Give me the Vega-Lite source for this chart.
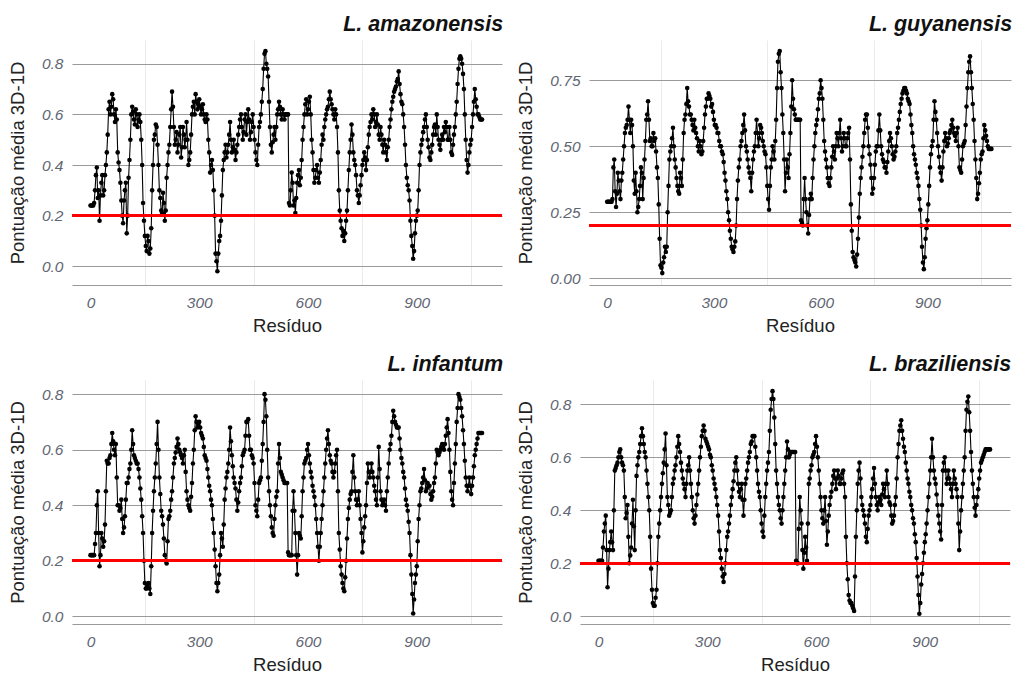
{
"$schema": "https://vega.github.io/schema/vega-lite/v6.json",
"background": "white",
"padding": {"left": 8, "top": 13, "right": 0, "bottom": 0},
"datasets": {"d": [
{"r":0,"a":0.24,"g":0.29,"i":0.22,"b":0.21},
{"r":5,"a":0.24,"g":0.29,"i":0.22,"b":0.21},
{"r":10,"a":0.25,"g":0.29,"i":0.22,"b":0.21},
{"r":15,"a":0.36,"g":0.3,"i":0.3,"b":0.32},
{"r":20,"a":0.27,"g":0.45,"i":0.45,"b":0.38},
{"r":25,"a":0.18,"g":0.27,"i":0.18,"b":0.11},
{"r":30,"a":0.33,"g":0.4,"i":0.3,"b":0.25},
{"r":35,"a":0.28,"g":0.33,"i":0.25,"b":0.32},
{"r":40,"a":0.36,"g":0.37,"i":0.33,"b":0.25},
{"r":45,"a":0.45,"g":0.45,"i":0.56,"b":0.55},
{"r":50,"a":0.62,"g":0.55,"i":0.55,"b":0.57},
{"r":55,"a":0.6,"g":0.58,"i":0.58,"b":0.6},
{"r":60,"a":0.68,"g":0.65,"i":0.66,"b":0.63},
{"r":65,"a":0.6,"g":0.55,"i":0.6,"b":0.58},
{"r":70,"a":0.62,"g":0.58,"i":0.62,"b":0.55},
{"r":75,"a":0.45,"g":0.37,"i":0.4,"b":0.37},
{"r":80,"a":0.38,"g":0.4,"i":0.38,"b":0.42},
{"r":85,"a":0.26,"g":0.25,"i":0.42,"b":0.2},
{"r":90,"a":0.17,"g":0.3,"i":0.3,"b":0.26},
{"r":95,"a":0.3,"g":0.42,"i":0.36,"b":0.44},
{"r":100,"a":0.13,"g":0.3,"i":0.48,"b":0.25},
{"r":105,"a":0.35,"g":0.45,"i":0.5,"b":0.53},
{"r":110,"a":0.5,"g":0.6,"i":0.55,"b":0.6},
{"r":115,"a":0.63,"g":0.67,"i":0.67,"b":0.65},
{"r":120,"a":0.58,"g":0.52,"i":0.58,"b":0.71},
{"r":125,"a":0.62,"g":0.5,"i":0.56,"b":0.65},
{"r":130,"a":0.55,"g":0.55,"i":0.55,"b":0.6},
{"r":135,"a":0.6,"g":0.53,"i":0.5,"b":0.5},
{"r":140,"a":0.5,"g":0.42,"i":0.42,"b":0.4},
{"r":145,"a":0.25,"g":0.28,"i":0.3,"b":0.18},
{"r":150,"a":0.12,"g":0.05,"i":0.12,"b":0.05},
{"r":155,"a":0.06,"g":0.02,"i":0.1,"b":0.04},
{"r":160,"a":0.1,"g":0.08,"i":0.12,"b":0.1},
{"r":165,"a":0.07,"g":0.1,"i":0.08,"b":0.3},
{"r":170,"a":0.3,"g":0.25,"i":0.3,"b":0.4},
{"r":175,"a":0.5,"g":0.45,"i":0.45,"b":0.5},
{"r":180,"a":0.56,"g":0.5,"i":0.55,"b":0.58},
{"r":185,"a":0.48,"g":0.57,"i":0.7,"b":0.69},
{"r":190,"a":0.3,"g":0.45,"i":0.5,"b":0.45},
{"r":195,"a":0.22,"g":0.38,"i":0.38,"b":0.38},
{"r":200,"a":0.29,"g":0.33,"i":0.33,"b":0.4},
{"r":205,"a":0.18,"g":0.4,"i":0.22,"b":0.5},
{"r":210,"a":0.35,"g":0.35,"i":0.19,"b":0.55},
{"r":215,"a":0.45,"g":0.55,"i":0.35,"b":0.6},
{"r":220,"a":0.55,"g":0.62,"i":0.38,"b":0.68},
{"r":225,"a":0.69,"g":0.72,"i":0.45,"b":0.62},
{"r":230,"a":0.55,"g":0.65,"i":0.55,"b":0.55},
{"r":235,"a":0.5,"g":0.62,"i":0.59,"b":0.5},
{"r":240,"a":0.45,"g":0.58,"i":0.64,"b":0.45},
{"r":245,"a":0.52,"g":0.6,"i":0.6,"b":0.55},
{"r":250,"a":0.43,"g":0.55,"i":0.58,"b":0.6},
{"r":255,"a":0.55,"g":0.5,"i":0.55,"b":0.5},
{"r":260,"a":0.47,"g":0.52,"i":0.6,"b":0.4},
{"r":265,"a":0.57,"g":0.47,"i":0.45,"b":0.35},
{"r":270,"a":0.4,"g":0.52,"i":0.4,"b":0.42},
{"r":275,"a":0.45,"g":0.62,"i":0.38,"b":0.5},
{"r":280,"a":0.6,"g":0.68,"i":0.48,"b":0.6},
{"r":285,"a":0.65,"g":0.7,"i":0.6,"b":0.68},
{"r":290,"a":0.68,"g":0.68,"i":0.72,"b":0.72},
{"r":295,"a":0.62,"g":0.66,"i":0.68,"b":0.67},
{"r":300,"a":0.66,"g":0.6,"i":0.7,"b":0.65},
{"r":305,"a":0.6,"g":0.58,"i":0.66,"b":0.63},
{"r":310,"a":0.64,"g":0.55,"i":0.64,"b":0.6},
{"r":315,"a":0.58,"g":0.52,"i":0.58,"b":0.55},
{"r":320,"a":0.6,"g":0.5,"i":0.56,"b":0.5},
{"r":325,"a":0.5,"g":0.47,"i":0.5,"b":0.45},
{"r":330,"a":0.37,"g":0.4,"i":0.45,"b":0.38},
{"r":335,"a":0.42,"g":0.33,"i":0.4,"b":0.25},
{"r":340,"a":0.3,"g":0.25,"i":0.3,"b":0.18},
{"r":345,"a":0.05,"g":0.18,"i":0.18,"b":0.13},
{"r":350,"a":-0.02,"g":0.12,"i":0.09,"b":0.2},
{"r":355,"a":0.1,"g":0.1,"i":0.15,"b":0.3},
{"r":360,"a":0.18,"g":0.14,"i":0.3,"b":0.35},
{"r":365,"a":0.38,"g":0.3,"i":0.25,"b":0.42},
{"r":370,"a":0.45,"g":0.42,"i":0.42,"b":0.48},
{"r":375,"a":0.43,"g":0.5,"i":0.5,"b":0.55},
{"r":380,"a":0.48,"g":0.55,"i":0.55,"b":0.6},
{"r":385,"a":0.57,"g":0.62,"i":0.68,"b":0.5},
{"r":390,"a":0.45,"g":0.5,"i":0.58,"b":0.45},
{"r":395,"a":0.5,"g":0.45,"i":0.5,"b":0.5},
{"r":400,"a":0.42,"g":0.4,"i":0.46,"b":0.38},
{"r":405,"a":0.48,"g":0.33,"i":0.38,"b":0.5},
{"r":410,"a":0.55,"g":0.45,"i":0.45,"b":0.55},
{"r":415,"a":0.6,"g":0.5,"i":0.5,"b":0.6},
{"r":420,"a":0.5,"g":0.6,"i":0.58,"b":0.65},
{"r":425,"a":0.58,"g":0.5,"i":0.6,"b":0.68},
{"r":430,"a":0.52,"g":0.58,"i":0.7,"b":0.68},
{"r":435,"a":0.62,"g":0.55,"i":0.71,"b":0.6},
{"r":440,"a":0.5,"g":0.5,"i":0.6,"b":0.5},
{"r":445,"a":0.57,"g":0.47,"i":0.58,"b":0.45},
{"r":450,"a":0.55,"g":0.35,"i":0.55,"b":0.35},
{"r":455,"a":0.45,"g":0.26,"i":0.4,"b":0.3},
{"r":460,"a":0.4,"g":0.42,"i":0.36,"b":0.45},
{"r":465,"a":0.55,"g":0.5,"i":0.48,"b":0.55},
{"r":470,"a":0.6,"g":0.45,"i":0.5,"b":0.62},
{"r":475,"a":0.7,"g":0.6,"i":0.62,"b":0.78},
{"r":480,"a":0.84,"g":0.82,"i":0.8,"b":0.85},
{"r":485,"a":0.8,"g":0.86,"i":0.72,"b":0.75},
{"r":490,"a":0.75,"g":0.72,"i":0.5,"b":0.55},
{"r":495,"a":0.55,"g":0.55,"i":0.4,"b":0.45},
{"r":500,"a":0.45,"g":0.33,"i":0.32,"b":0.4},
{"r":505,"a":0.52,"g":0.45,"i":0.29,"b":0.35},
{"r":510,"a":0.5,"g":0.38,"i":0.4,"b":0.45},
{"r":515,"a":0.6,"g":0.55,"i":0.45,"b":0.55},
{"r":520,"a":0.65,"g":0.75,"i":0.62,"b":0.66},
{"r":525,"a":0.6,"g":0.64,"i":0.52,"b":0.6},
{"r":530,"a":0.62,"g":0.6,"i":0.5,"b":0.62},
{"r":535,"a":0.58,"g":0.6,"i":0.48,"b":0.62},
{"r":540,"a":0.6,"g":0.6,"i":0.48,"b":0.62},
{"r":545,"a":0.6,"g":0.22,"i":0.23,"b":0.21},
{"r":550,"a":0.24,"g":0.2,"i":0.22,"b":0.2},
{"r":555,"a":0.37,"g":0.38,"i":0.22,"b":0.45},
{"r":560,"a":0.24,"g":0.25,"i":0.45,"b":0.35},
{"r":565,"a":0.21,"g":0.17,"i":0.3,"b":0.18},
{"r":570,"a":0.33,"g":0.3,"i":0.15,"b":0.3},
{"r":575,"a":0.38,"g":0.3,"i":0.3,"b":0.21},
{"r":580,"a":0.35,"g":0.45,"i":0.28,"b":0.5},
{"r":585,"a":0.5,"g":0.55,"i":0.45,"b":0.55},
{"r":590,"a":0.6,"g":0.6,"i":0.55,"b":0.6},
{"r":595,"a":0.66,"g":0.68,"i":0.57,"b":0.62},
{"r":600,"a":0.62,"g":0.75,"i":0.62,"b":0.68},
{"r":605,"a":0.67,"g":0.68,"i":0.55,"b":0.6},
{"r":610,"a":0.5,"g":0.52,"i":0.5,"b":0.5},
{"r":615,"a":0.38,"g":0.45,"i":0.45,"b":0.4},
{"r":620,"a":0.35,"g":0.38,"i":0.4,"b":0.35},
{"r":625,"a":0.4,"g":0.35,"i":0.3,"b":0.45},
{"r":630,"a":0.33,"g":0.42,"i":0.2,"b":0.27},
{"r":635,"a":0.42,"g":0.5,"i":0.3,"b":0.38},
{"r":640,"a":0.52,"g":0.45,"i":0.4,"b":0.45},
{"r":645,"a":0.55,"g":0.55,"i":0.5,"b":0.5},
{"r":650,"a":0.6,"g":0.5,"i":0.6,"b":0.55},
{"r":655,"a":0.63,"g":0.6,"i":0.67,"b":0.48},
{"r":660,"a":0.69,"g":0.48,"i":0.58,"b":0.55},
{"r":665,"a":0.64,"g":0.55,"i":0.55,"b":0.5},
{"r":670,"a":0.6,"g":0.5,"i":0.5,"b":0.52},
{"r":675,"a":0.62,"g":0.53,"i":0.55,"b":0.55},
{"r":680,"a":0.55,"g":0.57,"i":0.6,"b":0.45},
{"r":685,"a":0.3,"g":0.28,"i":0.3,"b":0.2},
{"r":690,"a":0.18,"g":0.1,"i":0.18,"b":0.08},
{"r":695,"a":0.12,"g":0.07,"i":0.12,"b":0.05},
{"r":700,"a":0.1,"g":0.045,"i":0.09,"b":0.04},
{"r":705,"a":0.18,"g":0.15,"i":0.2,"b":0.02},
{"r":710,"a":0.3,"g":0.32,"i":0.35,"b":0.3},
{"r":715,"a":0.45,"g":0.42,"i":0.42,"b":0.5},
{"r":720,"a":0.56,"g":0.5,"i":0.45,"b":0.58},
{"r":725,"a":0.45,"g":0.6,"i":0.58,"b":0.45},
{"r":730,"a":0.4,"g":0.62,"i":0.45,"b":0.4},
{"r":735,"a":0.3,"g":0.5,"i":0.4,"b":0.35},
{"r":740,"a":0.25,"g":0.43,"i":0.45,"b":0.28},
{"r":745,"a":0.32,"g":0.32,"i":0.35,"b":0.38},
{"r":750,"a":0.4,"g":0.38,"i":0.23,"b":0.42},
{"r":755,"a":0.45,"g":0.48,"i":0.32,"b":0.48},
{"r":760,"a":0.38,"g":0.5,"i":0.4,"b":0.56},
{"r":765,"a":0.47,"g":0.62,"i":0.55,"b":0.45},
{"r":770,"a":0.55,"g":0.5,"i":0.5,"b":0.4},
{"r":775,"a":0.6,"g":0.45,"i":0.55,"b":0.45},
{"r":780,"a":0.62,"g":0.42,"i":0.5,"b":0.42},
{"r":785,"a":0.55,"g":0.4,"i":0.45,"b":0.5},
{"r":790,"a":0.6,"g":0.48,"i":0.4,"b":0.45},
{"r":795,"a":0.52,"g":0.55,"i":0.61,"b":0.55},
{"r":800,"a":0.55,"g":0.5,"i":0.45,"b":0.45},
{"r":805,"a":0.48,"g":0.45,"i":0.4,"b":0.42},
{"r":810,"a":0.5,"g":0.48,"i":0.42,"b":0.35},
{"r":815,"a":0.45,"g":0.55,"i":0.38,"b":0.38},
{"r":820,"a":0.47,"g":0.6,"i":0.5,"b":0.45},
{"r":825,"a":0.55,"g":0.66,"i":0.6,"b":0.6},
{"r":830,"a":0.62,"g":0.7,"i":0.65,"b":0.7},
{"r":835,"a":0.67,"g":0.72,"i":0.74,"b":0.74},
{"r":840,"a":0.7,"g":0.71,"i":0.7,"b":0.67},
{"r":845,"a":0.73,"g":0.68,"i":0.68,"b":0.62},
{"r":850,"a":0.77,"g":0.66,"i":0.68,"b":0.55},
{"r":855,"a":0.68,"g":0.58,"i":0.6,"b":0.5},
{"r":860,"a":0.64,"g":0.5,"i":0.55,"b":0.45},
{"r":865,"a":0.55,"g":0.45,"i":0.5,"b":0.4},
{"r":870,"a":0.4,"g":0.4,"i":0.42,"b":0.35},
{"r":875,"a":0.32,"g":0.35,"i":0.38,"b":0.28},
{"r":880,"a":0.26,"g":0.26,"i":0.3,"b":0.15},
{"r":885,"a":0.12,"g":0.12,"i":0.15,"b":0.01},
{"r":890,"a":0.03,"g":0.035,"i":0.01,"b":0.12},
{"r":895,"a":0.13,"g":0.15,"i":0.12,"b":0.2},
{"r":900,"a":0.2,"g":0.22,"i":0.18,"b":0.28},
{"r":905,"a":0.3,"g":0.35,"i":0.35,"b":0.35},
{"r":910,"a":0.45,"g":0.47,"i":0.45,"b":0.45},
{"r":915,"a":0.5,"g":0.52,"i":0.48,"b":0.55},
{"r":920,"a":0.55,"g":0.67,"i":0.53,"b":0.67},
{"r":925,"a":0.6,"g":0.6,"i":0.45,"b":0.55},
{"r":930,"a":0.5,"g":0.5,"i":0.48,"b":0.5},
{"r":935,"a":0.43,"g":0.42,"i":0.47,"b":0.42},
{"r":940,"a":0.45,"g":0.37,"i":0.42,"b":0.35},
{"r":945,"a":0.52,"g":0.48,"i":0.45,"b":0.29},
{"r":950,"a":0.56,"g":0.55,"i":0.5,"b":0.55},
{"r":955,"a":0.6,"g":0.5,"i":0.6,"b":0.6},
{"r":960,"a":0.5,"g":0.53,"i":0.58,"b":0.5},
{"r":965,"a":0.46,"g":0.56,"i":0.6,"b":0.55},
{"r":970,"a":0.52,"g":0.6,"i":0.62,"b":0.5},
{"r":975,"a":0.55,"g":0.55,"i":0.6,"b":0.45},
{"r":980,"a":0.57,"g":0.52,"i":0.65,"b":0.55},
{"r":985,"a":0.5,"g":0.57,"i":0.71,"b":0.5},
{"r":990,"a":0.55,"g":0.42,"i":0.6,"b":0.45},
{"r":995,"a":0.45,"g":0.4,"i":0.45,"b":0.25},
{"r":1000,"a":0.48,"g":0.5,"i":0.4,"b":0.4},
{"r":1005,"a":0.55,"g":0.52,"i":0.55,"b":0.5},
{"r":1010,"a":0.65,"g":0.65,"i":0.7,"b":0.6},
{"r":1015,"a":0.78,"g":0.78,"i":0.8,"b":0.78},
{"r":1020,"a":0.83,"g":0.84,"i":0.78,"b":0.83},
{"r":1025,"a":0.8,"g":0.72,"i":0.72,"b":0.7},
{"r":1030,"a":0.7,"g":0.6,"i":0.62,"b":0.55},
{"r":1035,"a":0.5,"g":0.45,"i":0.5,"b":0.45},
{"r":1040,"a":0.37,"g":0.3,"i":0.45,"b":0.38},
{"r":1045,"a":0.45,"g":0.36,"i":0.5,"b":0.45},
{"r":1050,"a":0.5,"g":0.45,"i":0.44,"b":0.52},
{"r":1055,"a":0.6,"g":0.48,"i":0.5,"b":0.58},
{"r":1060,"a":0.7,"g":0.58,"i":0.58,"b":0.6},
{"r":1065,"a":0.63,"g":0.54,"i":0.62,"b":0.62},
{"r":1070,"a":0.6,"g":0.5,"i":0.66,"b":0.63},
{"r":1075,"a":0.58,"g":0.49,"i":0.66,"b":0.63},
{"r":1080,"a":0.58,"g":0.49,"i":0.66,"b":0.63},
{"r":2.5,"a":0.24,"g":0.29,"i":0.22,"b":0.21},
{"r":7.5,"a":0.24,"g":0.29,"i":0.22,"b":0.21},
{"r":12.5,"a":0.3,"g":0.29,"i":0.26,"b":0.26},
{"r":17.5,"a":0.39,"g":0.42,"i":0.4,"b":0.35},
{"r":22.5,"a":0.3,"g":0.33,"i":0.3,"b":0.25},
{"r":27.5,"a":0.28,"g":0.32,"i":0.22,"b":0.18},
{"r":32.5,"a":0.36,"g":0.37,"i":0.28,"b":0.28},
{"r":37.5,"a":0.3,"g":0.3,"i":0.27,"b":0.28},
{"r":42.5,"a":0.4,"g":0.4,"i":0.45,"b":0.4},
{"r":47.5,"a":0.52,"g":0.5,"i":0.55,"b":0.56},
{"r":52.5,"a":0.65,"g":0.57,"i":0.57,"b":0.58},
{"r":57.5,"a":0.63,"g":0.6,"i":0.62,"b":0.62},
{"r":62.5,"a":0.66,"g":0.6,"i":0.63,"b":0.6},
{"r":67.5,"a":0.57,"g":0.6,"i":0.58,"b":0.57},
{"r":72.5,"a":0.58,"g":0.5,"i":0.5,"b":0.45},
{"r":77.5,"a":0.41,"g":0.32,"i":0.4,"b":0.39},
{"r":82.5,"a":0.33,"g":0.33,"i":0.39,"b":0.3},
{"r":87.5,"a":0.2,"g":0.27,"i":0.35,"b":0.23},
{"r":92.5,"a":0.26,"g":0.35,"i":0.32,"b":0.35},
{"r":97.5,"a":0.33,"g":0.4,"i":0.42,"b":0.34},
{"r":102.5,"a":0.2,"g":0.38,"i":0.48,"b":0.4},
{"r":107.5,"a":0.42,"g":0.52,"i":0.53,"b":0.57},
{"r":112.5,"a":0.6,"g":0.62,"i":0.6,"b":0.62},
{"r":117.5,"a":0.61,"g":0.6,"i":0.62,"b":0.68},
{"r":122.5,"a":0.56,"g":0.53,"i":0.57,"b":0.68},
{"r":127.5,"a":0.6,"g":0.5,"i":0.55,"b":0.62},
{"r":132.5,"a":0.58,"g":0.52,"i":0.53,"b":0.55},
{"r":137.5,"a":0.57,"g":0.48,"i":0.46,"b":0.45},
{"r":142.5,"a":0.4,"g":0.38,"i":0.36,"b":0.3},
{"r":147.5,"a":0.18,"g":0.15,"i":0.2,"b":0.1},
{"r":152.5,"a":0.08,"g":0.04,"i":0.1,"b":0.04},
{"r":157.5,"a":0.12,"g":0.06,"i":0.11,"b":0.07},
{"r":162.5,"a":0.05,"g":0.12,"i":0.1,"b":0.2},
{"r":167.5,"a":0.15,"g":0.12,"i":0.18,"b":0.35},
{"r":172.5,"a":0.4,"g":0.35,"i":0.38,"b":0.45},
{"r":177.5,"a":0.52,"g":0.48,"i":0.5,"b":0.54},
{"r":182.5,"a":0.55,"g":0.53,"i":0.62,"b":0.63},
{"r":187.5,"a":0.4,"g":0.5,"i":0.6,"b":0.57},
{"r":192.5,"a":0.27,"g":0.42,"i":0.44,"b":0.42},
{"r":197.5,"a":0.21,"g":0.35,"i":0.36,"b":0.39},
{"r":202.5,"a":0.25,"g":0.32,"i":0.28,"b":0.45},
{"r":207.5,"a":0.22,"g":0.38,"i":0.2,"b":0.52},
{"r":212.5,"a":0.4,"g":0.45,"i":0.27,"b":0.57},
{"r":217.5,"a":0.48,"g":0.6,"i":0.36,"b":0.64},
{"r":222.5,"a":0.62,"g":0.66,"i":0.42,"b":0.65},
{"r":227.5,"a":0.63,"g":0.67,"i":0.5,"b":0.58},
{"r":232.5,"a":0.48,"g":0.62,"i":0.57,"b":0.52},
{"r":237.5,"a":0.53,"g":0.6,"i":0.61,"b":0.48},
{"r":242.5,"a":0.48,"g":0.56,"i":0.62,"b":0.5},
{"r":247.5,"a":0.55,"g":0.57,"i":0.59,"b":0.57},
{"r":252.5,"a":0.47,"g":0.53,"i":0.57,"b":0.55},
{"r":257.5,"a":0.52,"g":0.48,"i":0.58,"b":0.45},
{"r":262.5,"a":0.5,"g":0.5,"i":0.52,"b":0.37},
{"r":267.5,"a":0.5,"g":0.48,"i":0.42,"b":0.38},
{"r":272.5,"a":0.42,"g":0.57,"i":0.39,"b":0.46},
{"r":277.5,"a":0.52,"g":0.65,"i":0.43,"b":0.55},
{"r":282.5,"a":0.63,"g":0.68,"i":0.55,"b":0.64},
{"r":287.5,"a":0.6,"g":0.69,"i":0.67,"b":0.7},
{"r":292.5,"a":0.65,"g":0.65,"i":0.7,"b":0.7},
{"r":297.5,"a":0.64,"g":0.63,"i":0.69,"b":0.66},
{"r":302.5,"a":0.63,"g":0.58,"i":0.68,"b":0.64},
{"r":307.5,"a":0.62,"g":0.57,"i":0.65,"b":0.61},
{"r":312.5,"a":0.6,"g":0.55,"i":0.61,"b":0.57},
{"r":317.5,"a":0.57,"g":0.5,"i":0.57,"b":0.52},
{"r":322.5,"a":0.58,"g":0.48,"i":0.53,"b":0.48},
{"r":327.5,"a":0.45,"g":0.44,"i":0.47,"b":0.42},
{"r":332.5,"a":0.4,"g":0.37,"i":0.42,"b":0.32},
{"r":337.5,"a":0.38,"g":0.3,"i":0.35,"b":0.22},
{"r":342.5,"a":0.2,"g":0.22,"i":0.24,"b":0.15},
{"r":347.5,"a":0.02,"g":0.15,"i":0.12,"b":0.16},
{"r":352.5,"a":0.05,"g":0.11,"i":0.12,"b":0.25},
{"r":357.5,"a":0.12,"g":0.12,"i":0.22,"b":0.32},
{"r":362.5,"a":0.28,"g":0.2,"i":0.28,"b":0.38},
{"r":367.5,"a":0.42,"g":0.37,"i":0.33,"b":0.45},
{"r":372.5,"a":0.48,"g":0.45,"i":0.46,"b":0.51},
{"r":377.5,"a":0.45,"g":0.52,"i":0.52,"b":0.58},
{"r":382.5,"a":0.52,"g":0.58,"i":0.6,"b":0.55},
{"r":387.5,"a":0.5,"g":0.56,"i":0.63,"b":0.47},
{"r":392.5,"a":0.47,"g":0.48,"i":0.54,"b":0.48},
{"r":397.5,"a":0.46,"g":0.42,"i":0.48,"b":0.44},
{"r":402.5,"a":0.45,"g":0.38,"i":0.42,"b":0.44},
{"r":407.5,"a":0.52,"g":0.4,"i":0.41,"b":0.52},
{"r":412.5,"a":0.58,"g":0.48,"i":0.48,"b":0.58},
{"r":417.5,"a":0.55,"g":0.55,"i":0.54,"b":0.62},
{"r":422.5,"a":0.53,"g":0.55,"i":0.59,"b":0.66},
{"r":427.5,"a":0.6,"g":0.53,"i":0.65,"b":0.68},
{"r":432.5,"a":0.57,"g":0.57,"i":0.7,"b":0.64},
{"r":437.5,"a":0.58,"g":0.52,"i":0.65,"b":0.55},
{"r":442.5,"a":0.53,"g":0.48,"i":0.6,"b":0.47},
{"r":447.5,"a":0.6,"g":0.42,"i":0.57,"b":0.4},
{"r":452.5,"a":0.5,"g":0.3,"i":0.48,"b":0.32},
{"r":457.5,"a":0.42,"g":0.35,"i":0.38,"b":0.38},
{"r":462.5,"a":0.48,"g":0.45,"i":0.42,"b":0.5},
{"r":467.5,"a":0.57,"g":0.48,"i":0.49,"b":0.58},
{"r":472.5,"a":0.65,"g":0.52,"i":0.56,"b":0.7},
{"r":477.5,"a":0.78,"g":0.72,"i":0.7,"b":0.82},
{"r":482.5,"a":0.85,"g":0.85,"i":0.78,"b":0.82},
{"r":487.5,"a":0.78,"g":0.78,"i":0.6,"b":0.65},
{"r":492.5,"a":0.65,"g":0.62,"i":0.45,"b":0.5},
{"r":497.5,"a":0.48,"g":0.45,"i":0.36,"b":0.42},
{"r":502.5,"a":0.49,"g":0.4,"i":0.3,"b":0.37},
{"r":507.5,"a":0.55,"g":0.42,"i":0.35,"b":0.4},
{"r":512.5,"a":0.55,"g":0.47,"i":0.43,"b":0.5},
{"r":517.5,"a":0.62,"g":0.65,"i":0.55,"b":0.6},
{"r":522.5,"a":0.63,"g":0.68,"i":0.57,"b":0.63},
{"r":527.5,"a":0.58,"g":0.62,"i":0.51,"b":0.61},
{"r":532.5,"a":0.6,"g":0.6,"i":0.49,"b":0.62},
{"r":537.5,"a":0.6,"g":0.6,"i":0.48,"b":0.62},
{"r":542.5,"a":0.6,"g":0.6,"i":0.48,"b":0.62},
{"r":547.5,"a":0.25,"g":0.21,"i":0.22,"b":0.2},
{"r":552.5,"a":0.3,"g":0.3,"i":0.22,"b":0.33},
{"r":557.5,"a":0.33,"g":0.3,"i":0.38,"b":0.4},
{"r":562.5,"a":0.26,"g":0.2,"i":0.38,"b":0.25},
{"r":567.5,"a":0.27,"g":0.24,"i":0.22,"b":0.24},
{"r":572.5,"a":0.36,"g":0.32,"i":0.22,"b":0.26},
{"r":577.5,"a":0.32,"g":0.38,"i":0.29,"b":0.35},
{"r":582.5,"a":0.42,"g":0.5,"i":0.36,"b":0.52},
{"r":587.5,"a":0.55,"g":0.58,"i":0.5,"b":0.57},
{"r":592.5,"a":0.64,"g":0.64,"i":0.56,"b":0.61},
{"r":597.5,"a":0.6,"g":0.7,"i":0.6,"b":0.65},
{"r":602.5,"a":0.65,"g":0.72,"i":0.58,"b":0.64},
{"r":607.5,"a":0.6,"g":0.6,"i":0.52,"b":0.55},
{"r":612.5,"a":0.45,"g":0.48,"i":0.47,"b":0.45},
{"r":617.5,"a":0.33,"g":0.42,"i":0.43,"b":0.37},
{"r":622.5,"a":0.38,"g":0.36,"i":0.35,"b":0.4},
{"r":627.5,"a":0.35,"g":0.38,"i":0.25,"b":0.36},
{"r":632.5,"a":0.37,"g":0.46,"i":0.25,"b":0.32},
{"r":637.5,"a":0.48,"g":0.48,"i":0.35,"b":0.42},
{"r":642.5,"a":0.5,"g":0.5,"i":0.45,"b":0.47},
{"r":647.5,"a":0.58,"g":0.53,"i":0.55,"b":0.53},
{"r":652.5,"a":0.62,"g":0.55,"i":0.64,"b":0.52},
{"r":657.5,"a":0.66,"g":0.53,"i":0.62,"b":0.52},
{"r":662.5,"a":0.66,"g":0.5,"i":0.56,"b":0.53},
{"r":667.5,"a":0.62,"g":0.53,"i":0.52,"b":0.5},
{"r":672.5,"a":0.58,"g":0.5,"i":0.52,"b":0.54},
{"r":677.5,"a":0.6,"g":0.55,"i":0.58,"b":0.5},
{"r":682.5,"a":0.45,"g":0.45,"i":0.45,"b":0.3},
{"r":687.5,"a":0.22,"g":0.18,"i":0.24,"b":0.14},
{"r":692.5,"a":0.15,"g":0.08,"i":0.15,"b":0.06},
{"r":697.5,"a":0.14,"g":0.06,"i":0.1,"b":0.05},
{"r":702.5,"a":0.13,"g":0.09,"i":0.14,"b":0.03},
{"r":707.5,"a":0.22,"g":0.23,"i":0.28,"b":0.15},
{"r":712.5,"a":0.38,"g":0.38,"i":0.39,"b":0.4},
{"r":717.5,"a":0.5,"g":0.46,"i":0.44,"b":0.55},
{"r":722.5,"a":0.52,"g":0.55,"i":0.52,"b":0.52},
{"r":727.5,"a":0.42,"g":0.62,"i":0.5,"b":0.42},
{"r":732.5,"a":0.36,"g":0.57,"i":0.42,"b":0.38},
{"r":737.5,"a":0.28,"g":0.47,"i":0.42,"b":0.3},
{"r":742.5,"a":0.28,"g":0.38,"i":0.4,"b":0.33},
{"r":747.5,"a":0.36,"g":0.34,"i":0.3,"b":0.4},
{"r":752.5,"a":0.42,"g":0.43,"i":0.27,"b":0.45},
{"r":757.5,"a":0.43,"g":0.5,"i":0.36,"b":0.52},
{"r":762.5,"a":0.42,"g":0.56,"i":0.48,"b":0.5},
{"r":767.5,"a":0.52,"g":0.56,"i":0.52,"b":0.42},
{"r":772.5,"a":0.57,"g":0.47,"i":0.52,"b":0.43},
{"r":777.5,"a":0.58,"g":0.44,"i":0.52,"b":0.44},
{"r":782.5,"a":0.6,"g":0.42,"i":0.47,"b":0.46},
{"r":787.5,"a":0.57,"g":0.44,"i":0.42,"b":0.48},
{"r":792.5,"a":0.56,"g":0.52,"i":0.5,"b":0.5},
{"r":797.5,"a":0.5,"g":0.53,"i":0.53,"b":0.5},
{"r":802.5,"a":0.52,"g":0.47,"i":0.42,"b":0.43},
{"r":807.5,"a":0.45,"g":0.46,"i":0.41,"b":0.38},
{"r":812.5,"a":0.48,"g":0.5,"i":0.4,"b":0.36},
{"r":817.5,"a":0.42,"g":0.57,"i":0.45,"b":0.42},
{"r":822.5,"a":0.5,"g":0.63,"i":0.55,"b":0.52},
{"r":827.5,"a":0.58,"g":0.68,"i":0.62,"b":0.65},
{"r":832.5,"a":0.65,"g":0.71,"i":0.7,"b":0.72},
{"r":837.5,"a":0.69,"g":0.72,"i":0.72,"b":0.7},
{"r":842.5,"a":0.71,"g":0.7,"i":0.69,"b":0.64},
{"r":847.5,"a":0.74,"g":0.67,"i":0.68,"b":0.58},
{"r":852.5,"a":0.72,"g":0.62,"i":0.64,"b":0.52},
{"r":857.5,"a":0.65,"g":0.55,"i":0.57,"b":0.47},
{"r":862.5,"a":0.6,"g":0.47,"i":0.52,"b":0.42},
{"r":867.5,"a":0.48,"g":0.43,"i":0.46,"b":0.37},
{"r":872.5,"a":0.35,"g":0.38,"i":0.4,"b":0.31},
{"r":877.5,"a":0.3,"g":0.3,"i":0.34,"b":0.22},
{"r":882.5,"a":0.18,"g":0.2,"i":0.22,"b":0.08},
{"r":887.5,"a":0.08,"g":0.06,"i":0.08,"b":0.05},
{"r":892.5,"a":0.06,"g":0.08,"i":0.06,"b":0.16},
{"r":897.5,"a":0.18,"g":0.19,"i":0.15,"b":0.24},
{"r":902.5,"a":0.22,"g":0.28,"i":0.27,"b":0.31},
{"r":907.5,"a":0.4,"g":0.42,"i":0.4,"b":0.4},
{"r":912.5,"a":0.48,"g":0.5,"i":0.46,"b":0.5},
{"r":917.5,"a":0.53,"g":0.6,"i":0.5,"b":0.6},
{"r":922.5,"a":0.58,"g":0.63,"i":0.49,"b":0.6},
{"r":927.5,"a":0.55,"g":0.55,"i":0.46,"b":0.52},
{"r":932.5,"a":0.47,"g":0.46,"i":0.47,"b":0.46},
{"r":937.5,"a":0.42,"g":0.4,"i":0.44,"b":0.38},
{"r":942.5,"a":0.48,"g":0.42,"i":0.43,"b":0.32},
{"r":947.5,"a":0.55,"g":0.52,"i":0.48,"b":0.42},
{"r":952.5,"a":0.52,"g":0.53,"i":0.55,"b":0.58},
{"r":957.5,"a":0.55,"g":0.51,"i":0.59,"b":0.55},
{"r":962.5,"a":0.48,"g":0.55,"i":0.59,"b":0.52},
{"r":967.5,"a":0.5,"g":0.58,"i":0.61,"b":0.52},
{"r":972.5,"a":0.5,"g":0.57,"i":0.61,"b":0.48},
{"r":977.5,"a":0.53,"g":0.54,"i":0.62,"b":0.5},
{"r":982.5,"a":0.55,"g":0.55,"i":0.68,"b":0.52},
{"r":987.5,"a":0.5,"g":0.5,"i":0.66,"b":0.48},
{"r":992.5,"a":0.5,"g":0.41,"i":0.52,"b":0.35},
{"r":997.5,"a":0.44,"g":0.45,"i":0.42,"b":0.32},
{"r":1002.5,"a":0.52,"g":0.51,"i":0.48,"b":0.45},
{"r":1007.5,"a":0.6,"g":0.58,"i":0.62,"b":0.55},
{"r":1012.5,"a":0.72,"g":0.72,"i":0.75,"b":0.7},
{"r":1017.5,"a":0.82,"g":0.82,"i":0.79,"b":0.81},
{"r":1022.5,"a":0.82,"g":0.78,"i":0.75,"b":0.77},
{"r":1027.5,"a":0.76,"g":0.66,"i":0.67,"b":0.62},
{"r":1032.5,"a":0.6,"g":0.52,"i":0.56,"b":0.5},
{"r":1037.5,"a":0.42,"g":0.38,"i":0.47,"b":0.41},
{"r":1042.5,"a":0.4,"g":0.32,"i":0.47,"b":0.42},
{"r":1047.5,"a":0.48,"g":0.4,"i":0.47,"b":0.48},
{"r":1052.5,"a":0.55,"g":0.47,"i":0.47,"b":0.55},
{"r":1057.5,"a":0.65,"g":0.53,"i":0.54,"b":0.59},
{"r":1062.5,"a":0.66,"g":0.56,"i":0.6,"b":0.61},
{"r":1067.5,"a":0.6,"g":0.52,"i":0.64,"b":0.63},
{"r":1072.5,"a":0.59,"g":0.49,"i":0.66,"b":0.63},
{"r":1077.5,"a":0.58,"g":0.49,"i":0.66,"b":0.63}
]},
"config": {
  "font": "Liberation Sans",
  "view": {"stroke": null},
  "axis": {"labelFont": "Liberation Sans", "labelFontStyle": "italic", "labelFontSize": 15.5, "labelColor": "#5f6673", "titleFont": "Liberation Sans", "titleFontSize": 18.5, "titleFontWeight": "normal", "titleColor": "#222222", "ticks": false, "tickSize": 0, "labelPadding": 9, "gridWidth": 1, "labelOverlap": false},
  "axisX": {"domain": true, "domainColor": "#9a9a9a", "domainWidth": 1.2, "labelPadding": 10, "titlePadding": 6},
  "axisY": {"domain": false, "titlePadding": 14},
  "title": {"anchor": "end", "fontSize": 21.5, "fontWeight": "bold", "fontStyle": "italic", "color": "#111111", "offset": 5, "font": "Liberation Sans"}
},
"spacing": 18,
"vconcat": [
{"spacing": 12, "hconcat": [
 {"width": 430, "height": 245, "title": {"text": "L. amazonensis"}, "data": {"name": "d"},
  "layer": [
   {"mark": {"type": "line", "color": "black", "strokeWidth": 1.1},
    "encoding": {
     "x": {"field": "r", "type": "quantitative", "scale": {"domain": [-51, 1135], "nice": false, "zero": false},
       "axis": {"title": "Resíduo", "values": [0,150,300,450,600,750,900,1050], "labelExpr": "datum.value % 300 == 0 ? datum.label : ''", "gridColor": {"condition": {"test": "datum.value % 300 == 0", "value": "transparent"}, "value": "#ebebeb"}}},
     "y": {"field": "a", "type": "quantitative", "scale": {"domain": [-0.074, 0.894], "nice": false, "zero": false},
       "axis": {"title": "Pontuação média 3D-1D", "values": [0,0.1,0.2,0.3,0.4,0.5,0.6,0.7,0.8], "labelExpr": "abs(datum.value*5 - round(datum.value*5)) < 0.001 ? format(datum.value, '.1f') : ''", "gridColor": {"condition": {"test": "abs(datum.value*5 - round(datum.value*5)) < 0.001", "value": "#9a9a9a"}, "value": "#ebebeb"}, "gridWidth": {"condition": {"test": "abs(datum.value*5 - round(datum.value*5)) < 0.001", "value": 1.2}, "value": 1}}}
    }},
   {"mark": {"type": "point", "filled": true, "color": "black", "size": 21, "opacity": 1},
    "encoding": {"x": {"field": "r", "type": "quantitative"}, "y": {"field": "a", "type": "quantitative"}}},
   {"mark": {"type": "rule", "color": "#ff0000", "strokeWidth": 2.5}, "encoding": {"y": {"datum": 0.2}}}
  ]},
 {"width": 422, "height": 245, "title": {"text": "L. guyanensis"}, "data": {"name": "d"},
  "layer": [
   {"mark": {"type": "line", "color": "black", "strokeWidth": 1.1},
    "encoding": {
     "x": {"field": "r", "type": "quantitative", "scale": {"domain": [-51, 1135], "nice": false, "zero": false},
       "axis": {"title": "Resíduo", "values": [0,150,300,450,600,750,900,1050], "labelExpr": "datum.value % 300 == 0 ? datum.label : ''", "gridColor": {"condition": {"test": "datum.value % 300 == 0", "value": "transparent"}, "value": "#ebebeb"}}},
     "y": {"field": "g", "type": "quantitative", "scale": {"domain": [-0.025, 0.902], "nice": false, "zero": false},
       "axis": {"title": "Pontuação média 3D-1D", "values": [0,0.125,0.25,0.375,0.5,0.625,0.75,0.875], "labelExpr": "abs(datum.value*4 - round(datum.value*4)) < 0.001 ? format(datum.value, '.2f') : ''", "gridColor": {"condition": {"test": "abs(datum.value*4 - round(datum.value*4)) < 0.001", "value": "#9a9a9a"}, "value": "#ebebeb"}, "gridWidth": {"condition": {"test": "abs(datum.value*4 - round(datum.value*4)) < 0.001", "value": 1.2}, "value": 1}}}
    }},
   {"mark": {"type": "point", "filled": true, "color": "black", "size": 21, "opacity": 1},
    "encoding": {"x": {"field": "r", "type": "quantitative"}, "y": {"field": "g", "type": "quantitative"}}},
   {"mark": {"type": "rule", "color": "#ff0000", "strokeWidth": 2.5}, "encoding": {"y": {"datum": 0.2}}}
  ]}
]},
{"spacing": 12, "hconcat": [
 {"width": 430, "height": 244, "title": {"text": "L. infantum"}, "data": {"name": "d"},
  "layer": [
   {"mark": {"type": "line", "color": "black", "strokeWidth": 1.1},
    "encoding": {
     "x": {"field": "r", "type": "quantitative", "scale": {"domain": [-51, 1135], "nice": false, "zero": false},
       "axis": {"title": "Resíduo", "values": [0,150,300,450,600,750,900,1050], "labelExpr": "datum.value % 300 == 0 ? datum.label : ''", "gridColor": {"condition": {"test": "datum.value % 300 == 0", "value": "transparent"}, "value": "#ebebeb"}}},
     "y": {"field": "i", "type": "quantitative", "scale": {"domain": [-0.028, 0.851], "nice": false, "zero": false},
       "axis": {"title": "Pontuação média 3D-1D", "values": [0,0.1,0.2,0.3,0.4,0.5,0.6,0.7,0.8], "labelExpr": "abs(datum.value*5 - round(datum.value*5)) < 0.001 ? format(datum.value, '.1f') : ''", "gridColor": {"condition": {"test": "abs(datum.value*5 - round(datum.value*5)) < 0.001", "value": "#9a9a9a"}, "value": "#ebebeb"}, "gridWidth": {"condition": {"test": "abs(datum.value*5 - round(datum.value*5)) < 0.001", "value": 1.2}, "value": 1}}}
    }},
   {"mark": {"type": "point", "filled": true, "color": "black", "size": 21, "opacity": 1},
    "encoding": {"x": {"field": "r", "type": "quantitative"}, "y": {"field": "i", "type": "quantitative"}}},
   {"mark": {"type": "rule", "color": "#ff0000", "strokeWidth": 2.5}, "encoding": {"y": {"datum": 0.2}}}
  ]},
 {"width": 430, "height": 244, "title": {"text": "L. braziliensis"}, "data": {"name": "d"},
  "layer": [
   {"mark": {"type": "line", "color": "black", "strokeWidth": 1.1},
    "encoding": {
     "x": {"field": "r", "type": "quantitative", "scale": {"domain": [-51, 1135], "nice": false, "zero": false},
       "axis": {"title": "Resíduo", "values": [0,150,300,450,600,750,900,1050], "labelExpr": "datum.value % 300 == 0 ? datum.label : ''", "gridColor": {"condition": {"test": "datum.value % 300 == 0", "value": "transparent"}, "value": "#ebebeb"}}},
     "y": {"field": "b", "type": "quantitative", "scale": {"domain": [-0.029, 0.892], "nice": false, "zero": false},
       "axis": {"title": "Pontuação média 3D-1D", "values": [0,0.1,0.2,0.3,0.4,0.5,0.6,0.7,0.8], "labelExpr": "abs(datum.value*5 - round(datum.value*5)) < 0.001 ? format(datum.value, '.1f') : ''", "gridColor": {"condition": {"test": "abs(datum.value*5 - round(datum.value*5)) < 0.001", "value": "#9a9a9a"}, "value": "#ebebeb"}, "gridWidth": {"condition": {"test": "abs(datum.value*5 - round(datum.value*5)) < 0.001", "value": 1.2}, "value": 1}}}
    }},
   {"mark": {"type": "point", "filled": true, "color": "black", "size": 21, "opacity": 1},
    "encoding": {"x": {"field": "r", "type": "quantitative"}, "y": {"field": "b", "type": "quantitative"}}},
   {"mark": {"type": "rule", "color": "#ff0000", "strokeWidth": 2.5}, "encoding": {"y": {"datum": 0.2}}}
  ]}
]}
]
}
